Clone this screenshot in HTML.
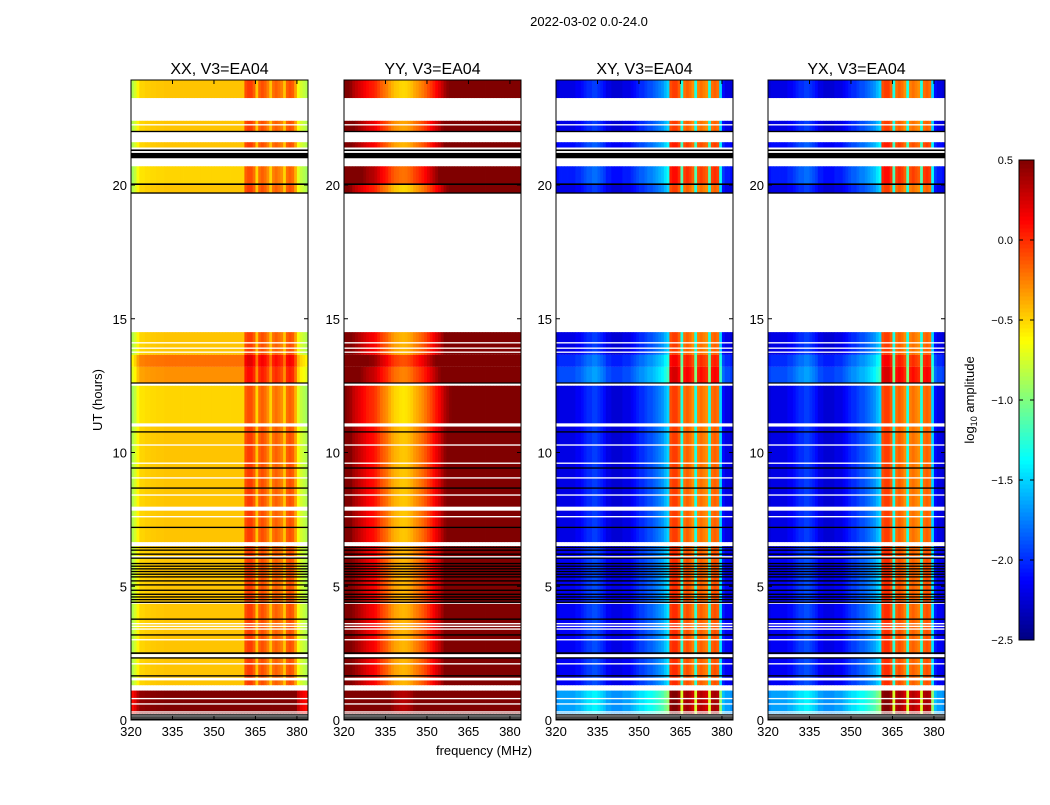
<!DOCTYPE html>
<html><head><meta charset="utf-8"><style>
body{margin:0;background:#fff;}
svg text{font-family:"Liberation Sans",sans-serif;}
</style></head><body>
<svg id="chart" width="1050" height="800" xmlns="http://www.w3.org/2000/svg">
<rect width="1050" height="800" fill="#fff"/>
<text x="589" y="26" font-size="13" text-anchor="middle">2022-03-02 0.0-24.0</text>
<text x="484" y="755" font-size="13" text-anchor="middle">frequency (MHz)</text>
<text x="0" y="0" font-size="13" text-anchor="middle" transform="translate(102,400) rotate(-90)">UT (hours)</text>
<g id="panels"></g>
<g id="cbar"></g>
</svg>
<script>
const panelNames = ["XX","YY","XY","YX"];
const panelLeft = [131,344,556,768];
const freqStart = 320;
const xTicks = [320,335,350,365,380];
const yTicks = [0,5,10,15,20];
const cbTicks = [0.5,0.0,-0.5,-1.0,-1.5,-2.0,-2.5];
const cbLabels = ["0.5","0.0","\u22120.5","\u22121.0","\u22121.5","\u22122.0","\u22122.5"];
// spectral profiles, 1 MHz channels 320..383 (log10 amplitude)
const profXX = [-0.85,-0.75,-0.6,-0.5,-0.5,-0.48,-0.48,-0.47,-0.47,-0.46,-0.46,-0.46,-0.45,-0.45,-0.45,-0.45,-0.45,-0.45,-0.45,-0.45,-0.45,-0.45,-0.45,-0.45,-0.45,-0.45,-0.45,-0.45,-0.45,-0.45,-0.45,-0.45,-0.45,-0.45,-0.45,-0.45,-0.45,-0.45,-0.45,-0.45,-0.45,-0.1,-0.05,-0.05,-0.15,-0.45,-0.15,-0.1,-0.15,-0.25,-0.45,-0.2,-0.15,-0.2,-0.25,-0.45,-0.15,-0.1,-0.15,-0.35,-0.65,-0.75,-0.8,-0.85];
const profYY = [0.5,0.45,0.4,0.3,0.25,0.2,0.15,0.1,0.05,0.02,0.0,-0.05,-0.12,-0.2,-0.25,-0.3,-0.38,-0.45,-0.5,-0.52,-0.55,-0.56,-0.55,-0.52,-0.48,-0.42,-0.38,-0.33,-0.28,-0.22,-0.15,-0.08,0.0,0.08,0.15,0.25,0.35,0.42,0.48,0.5,0.5,0.5,0.5,0.5,0.5,0.5,0.5,0.5,0.5,0.5,0.5,0.5,0.5,0.5,0.5,0.5,0.5,0.5,0.5,0.5,0.5,0.5,0.5,0.5];
const profXY = [-2.25,-2.2,-2.2,-2.2,-2.2,-2.2,-2.2,-2.15,-2.15,-2.1,-2.05,-2.0,-2.0,-1.95,-1.95,-2.0,-2.05,-2.1,-2.2,-2.2,-2.25,-2.25,-2.25,-2.25,-2.2,-2.2,-2.2,-2.15,-2.1,-2.05,-2.0,-2.0,-1.95,-1.9,-1.9,-1.85,-1.8,-1.75,-1.7,-1.6,-1.5,-0.1,-0.05,-0.05,-0.15,-1.3,-0.2,-0.15,-0.2,-0.3,-1.3,-0.25,-0.2,-0.25,-0.3,-1.3,-0.2,-0.15,-0.2,-1.5,-2.1,-2.2,-2.2,-2.25];
const profYX = profXY.slice();
// data blocks (hours) and per-panel offsets
const blockStart = [23.25,22.0,21.4,20.05,19.7,13.65,13.2,12.6,11.05,6.65,1.3,0.25];
const blockEnd   = [23.93,22.4,21.6,20.7,20.0,14.5,13.65,13.2,12.5,11.05,6.5,1.1];
const offXX = [0,0,0,-0.05,0,0,0.25,0.15,-0.05,0,0,0.95];
const offYY = [0.05,0.2,0.15,0.35,0.05,0.15,0.45,0.3,0.0,0.1,0.15,0.9];
const offXY = [0,0,0.1,0.15,0,0,0.2,0.3,0,0,0.05,0.55];
const offYX = [0,0,0.1,0.15,0,0,0.2,0.3,0,0,0.05,0.55];
// flagged rows
const whiteLines = [[22.25,0.05],[21.35,0.1],[14.1,0.05],[13.9,0.05],[13.75,0.05],[12.55,0.1],[11.03,0.12],[10.28,0.05],[9.6,0.05],[9.05,0.05],[8.41,0.05],[7.9,0.15],[7.6,0.05],[6.1,0.05],[4.37,0.05],[3.6,0.05],[3.5,0.05],[3.4,0.05],[3.0,0.05],[2.4,0.12],[2.1,0.05],[1.53,0.1],[0.8,0.05],[0.6,0.05],[0.3,0.05]];
const blackLines = [[22.0,0.05],[21.3,0.06],[21.1,0.2],[20.03,0.06],[19.7,0.05],[12.6,0.04],[10.77,0.05],[9.42,0.05],[8.67,0.05],[7.2,0.05],[6.45,0.05],[6.35,0.05],[6.2,0.05],[6.05,0.05],[5.85,0.05],[5.75,0.05],[5.65,0.05],[5.55,0.05],[5.45,0.05],[5.35,0.05],[5.2,0.05],[5.05,0.05],[4.85,0.05],[4.7,0.05],[4.6,0.05],[4.5,0.05],[4.4,0.05],[3.77,0.05],[3.18,0.05],[2.5,0.06],[2.32,0.05],[1.65,0.05],[0.19,0.05],[0.11,0.05],[0.04,0.05]];

const NS="http://www.w3.org/2000/svg";
const pw=177, pTop=80, pBot=720, pxPerMHz=177/64;
function xs(p,f){return panelLeft[p]+(f-freqStart)*pxPerMHz;}
function ys(h){return pBot-h*26.75;}
function clamp(v){return Math.max(0,Math.min(1,v));}
function jet(v){const t=clamp((v+2.5)/3);
  const r=clamp(1.5-Math.abs(4*t-3)),g=clamp(1.5-Math.abs(4*t-2)),b=clamp(1.5-Math.abs(4*t-1));
  return `rgb(${Math.round(r*255)},${Math.round(g*255)},${Math.round(b*255)})`;}
function mk(tag,at,parent){const e=document.createElementNS(NS,tag);for(const k in at)e.setAttribute(k,at[k]);parent.appendChild(e);return e;}
const profs=[profXX,profYY,profXY,profYX], offs=[offXX,offYY,offXY,offYX];
const panelsG=document.getElementById('panels');
for(let p=0;p<4;p++){
  const g=mk('g',{},panelsG);
  
  
  const L=panelLeft[p];
  for(let b=0;b<blockStart.length;b++){
    for(let c=0;c<profs[p].length;c++){
      const x0=xs(p,freqStart+c),x1=xs(p,freqStart+c+1);
      const r=mk('rect',{x:x0.toFixed(2),y:ys(blockEnd[b]).toFixed(2),width:(x1-x0+0.4).toFixed(2),height:(ys(blockStart[b])-ys(blockEnd[b])).toFixed(2),fill:jet(profs[p][c]+offs[p][b])},g);
      
      
    }
  }
  for(const w of whiteLines){
    const r=mk('rect',{x:L,y:ys(w[0]+w[1]/2),width:pw,height:Math.max(1,w[1]*26.75),fill:'#fff'},g);
    
    
  }
  for(const k of blackLines){
    const r=mk('rect',{x:L,y:ys(k[0]+k[1]/2),width:pw,height:Math.max(1.2,k[1]*26.75),fill:'#000'},g);
    
    
  }
  const fr=mk('rect',{x:L,y:pTop,width:pw,height:pBot-pTop,fill:'none',stroke:'#000','stroke-width':1},g);
  
  
  const t=mk('text',{x:L+pw/2,y:74,'font-size':16,'text-anchor':'middle'},g);
  t.textContent=panelNames[p]+', V3=EA04';
  
  
  for(const f of xTicks){
    const x=xs(p,f);
    mk('line',{x1:x,x2:x,y1:pBot,y2:pBot-4,stroke:'#000'},g);
    mk('line',{x1:x,x2:x,y1:pTop,y2:pTop+4,stroke:'#000'},g);
    const tx=mk('text',{x:x,y:pBot+16,'font-size':13,'text-anchor':'middle'},g);
    tx.textContent=f;
    
    
  }
  for(const h of yTicks){
    const y=ys(h);
    mk('line',{x1:L,x2:L+4,y1:y,y2:y,stroke:'#000'},g);
    mk('line',{x1:L+pw,x2:L+pw-4,y1:y,y2:y,stroke:'#000'},g);
    const ty=mk('text',{x:L-4,y:y+5,'font-size':13,'text-anchor':'end'},g);
    ty.textContent=h;
    
    
  }
}
// colorbar
const cb=document.getElementById('cbar');
const cbX=1019,cbW=15,cbT=160,cbB=640;
function cy(v){return cbB-(v+2.5)/3*(cbB-cbT);}
for(let i=0;i<120;i++){
  const v=-2.5+3*i/120;
  const r=mk('rect',{x:cbX,y:cy(v+3/120).toFixed(2),width:cbW,height:((cbB-cbT)/120+0.5).toFixed(2),fill:jet(v+1.5/120)},cb);
  
  
}
mk('rect',{x:cbX,y:cbT,width:cbW,height:cbB-cbT,fill:'none',stroke:'#000'},cb);
cbTicks.forEach((v,i)=>{
  const y=cy(v);
  mk('line',{x1:cbX,x2:cbX+4,y1:y,y2:y,stroke:'#000'},cb);
  mk('line',{x1:cbX+cbW,x2:cbX+cbW-4,y1:y,y2:y,stroke:'#000'},cb);
  const t=mk('text',{x:1013,y:y+4,'font-size':11,'text-anchor':'end'},cb);
  t.textContent=cbLabels[i];
  
  
});
const cl=mk('text',{x:0,y:0,'font-size':13,'text-anchor':'middle',transform:'translate(974,400) rotate(-90)'},cb);
cl.innerHTML='log<tspan font-size="9" dy="3">10</tspan><tspan dy="-3"> amplitude</tspan>';


</script>
</body></html>
